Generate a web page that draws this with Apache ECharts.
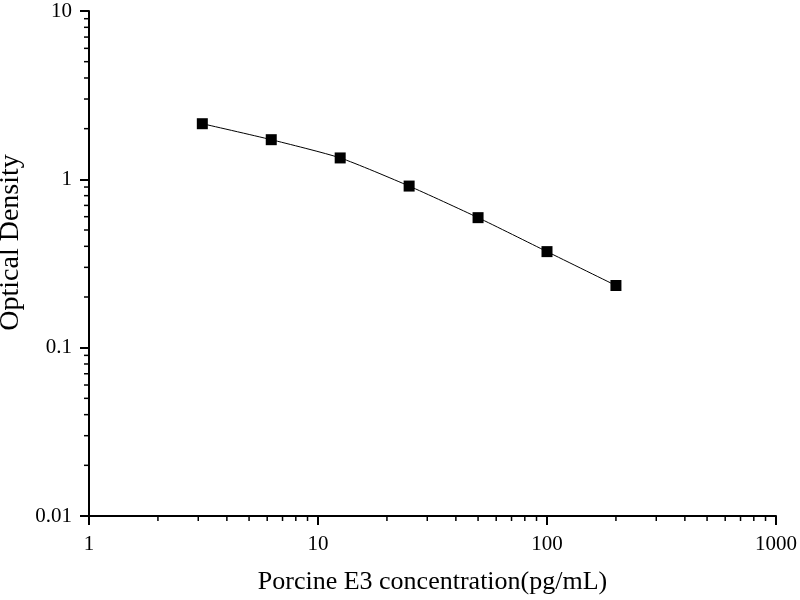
<!DOCTYPE html>
<html>
<head>
<meta charset="utf-8">
<script src="https://cdn.jsdelivr.net/npm/echarts@6/dist/echarts.min.js"></script>
<style>
  html, body { margin: 0; padding: 0; background: #fff; }
  #main { width: 800px; height: 600px; }
</style>
</head>
<body>
<div id="main"></div>
<script>
// concentration (pg/mL) and measured optical density
var concentration = [3.125, 6.25, 12.5, 25, 50, 100, 200];
var opticalDensity = [2.14, 1.72, 1.34, 0.912, 0.592, 0.372, 0.234];

// minor tick positions for the log axes
var xMinorTicks = [2, 3, 4, 5, 6, 7, 8, 9, 20, 30, 40, 50, 60, 70, 80, 90, 200, 300, 400, 500, 600, 700, 800, 900];
var yMinorTicks = [0.02, 0.03, 0.04, 0.05, 0.06, 0.07, 0.08, 0.09, 0.2, 0.3, 0.4, 0.5, 0.6, 0.7, 0.8, 0.9, 2, 3, 4, 5, 6, 7, 8, 9];

var font = 'Liberation Serif';
var myChart = echarts.init(document.getElementById('main'));

var points = concentration.map(function (c, i) { return [c, opticalDensity[i]]; });

function minorTickSeries(values, isX) {
    return {
        type: 'custom',
        silent: true,
        clip: false,
        z: 5,
        data: values.map(function (v) { return isX ? [v, 0.01] : [1, v]; }),
        renderItem: function (params, api) {
            var p = api.coord([api.value(0), api.value(1)]);
            var shape = isX
                ? { x1: p[0], y1: p[1], x2: p[0], y2: p[1] + 5 }
                : { x1: p[0] - 5, y1: p[1], x2: p[0], y2: p[1] };
            return { type: 'line', shape: shape, style: { stroke: '#000', lineWidth: 1.5 } };
        }
    };
}

var option = {
    animation: false,
    backgroundColor: '#fff',
    grid: { left: 89, right: 24, top: 11, bottom: 84, containLabel: false, outerBoundsMode: 'none' },
    xAxis: {
        type: 'log',
        logBase: 10,
        min: 1,
        max: 1000,
        name: 'Porcine E3 concentration(pg/mL)',
        nameLocation: 'middle',
        nameGap: 53,
        nameTextStyle: { fontFamily: font, fontSize: 26, color: '#000' },
        axisLine: { show: true, lineStyle: { color: '#000', width: 2 } },
        axisTick: { show: true, inside: false, length: 9, lineStyle: { color: '#000', width: 2 } },
        axisLabel: {
            fontFamily: font, fontSize: 21, color: '#000', margin: 18,
            formatter: function (v) { return String(v); }
        },
        splitLine: { show: false }
    },
    yAxis: {
        type: 'log',
        logBase: 10,
        min: 0.01,
        max: 10,
        name: 'Optical Density',
        nameLocation: 'middle',
        nameGap: 58,
        nameTextStyle: { fontFamily: font, fontSize: 28, color: '#000', padding: [0, 0, 0, 42] },
        axisLine: { show: true, lineStyle: { color: '#000', width: 2 } },
        axisTick: { show: true, inside: false, length: 9, lineStyle: { color: '#000', width: 2 } },
        axisLabel: {
            fontFamily: font, fontSize: 21, color: '#000', margin: 17,
            formatter: function (v) { return String(v); }
        },
        splitLine: { show: false }
    },
    series: [
        {
            name: 'OD',
            type: 'line',
            data: points,
            smooth: 0.2,
            symbol: 'rect',
            symbolSize: 11,
            itemStyle: { color: '#000' },
            lineStyle: { color: '#000', width: 1 },
            z: 10
        },
        minorTickSeries(xMinorTicks, true),
        minorTickSeries(yMinorTicks, false)
    ]
};
myChart.setOption(option);
</script>
</body>
</html>
